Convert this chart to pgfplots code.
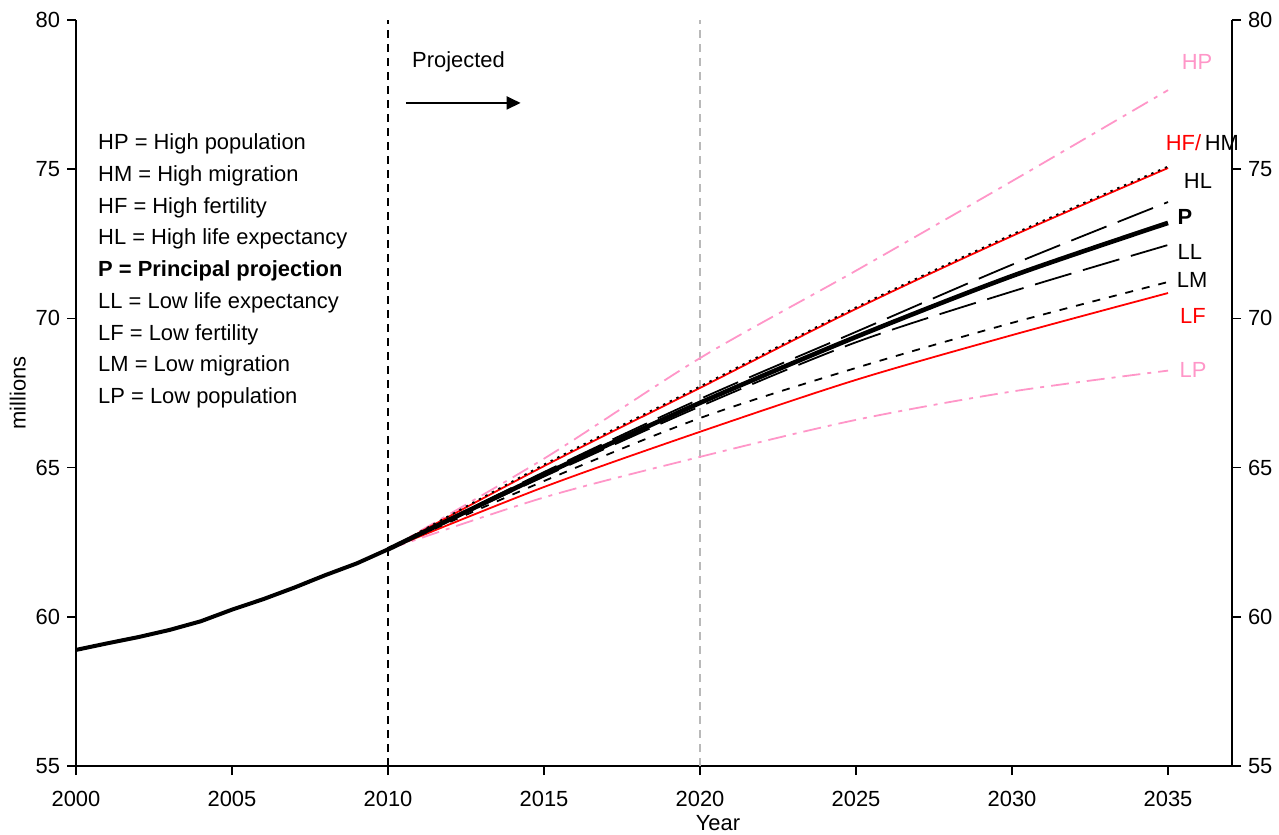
\documentclass[border=0pt]{standalone}
\usepackage{fontspec}
\setmainfont{Liberation Sans}
\usepackage{pgfplots}
\pgfplotsset{compat=1.18}
\usetikzlibrary{arrows.meta}
\definecolor{hpink}{RGB}{255,150,200}
\definecolor{hred}{RGB}{255,0,0}
\definecolor{vgray}{RGB}{185,185,185}

\pgfplotstableread{
year val
2000 58.89
2001 59.11
2002 59.32
2003 59.56
2004 59.85
2005 60.24
2006 60.59
2007 60.98
2008 61.40
2009 61.79
2010 62.26
}\hist

\pgfplotstableread{
year HP HM HF HL P LL LM LF LP
2010 62.26 62.26 62.26 62.26 62.26 62.26 62.26 62.26 62.26
2015 65.30 65.10 65.05 64.85 64.77 64.70 64.55 64.35 64.00
2020 68.67 67.72 67.67 67.30 67.17 67.05 66.66 66.20 65.36
2025 71.60 70.37 70.32 69.55 69.38 69.20 68.34 67.94 66.60
2030 74.60 72.81 72.76 71.80 71.42 70.90 69.85 69.44 67.55
2035 77.65 75.09 75.04 73.90 73.20 72.46 71.22 70.85 68.25
}\proj

\begin{document}
\begin{tikzpicture}[font=\fontsize{11}{13}\selectfont]
\useasboundingbox (-38bp,-34.5bp) rectangle (601.5bp,383bp);
\begin{axis}[
  at={(0,0)}, anchor=south west,
  scale only axis, width=578bp, height=373bp,
  xmin=2000, xmax=2037.05, ymin=55, ymax=80,
  axis x line*=bottom, axis y line*=left,
  xtick={2000,2005,...,2035}, ytick={55,60,...,80},
  tick align=outside, major tick length=4.5bp,
  tick style={black, line width=0.8bp},
  axis line style={black, line width=0.8bp},
  xticklabel style={/pgf/number format/1000 sep={}, yshift=-4.5bp},
  /pgf/number format/assume math mode=true,
  xlabel={Year}, ylabel={millions},
  xlabel style={xshift=32bp, yshift=2.5bp},
  ylabel style={yshift=-2bp},
  clip=false,
]
% vertical reference lines
\addplot[black, line width=0.8bp, dash pattern=on 4bp off 3bp] coordinates {(2010,55) (2010,80)};
\addplot[vgray, line width=0.8bp, dash pattern=on 4bp off 3bp] coordinates {(2020,55) (2020,80)};

% pink variants
\addplot[hpink, line width=0.9bp, smooth, dash pattern=on 9bp off 3.5bp on 2bp off 3.5bp] table[x=year,y=HP]{\proj};
\addplot[hpink, line width=0.9bp, smooth, dash pattern=on 9bp off 3.5bp on 2bp off 3.5bp] table[x=year,y=LP]{\proj};
% red variants
\addplot[hred, line width=0.9bp, smooth] table[x=year,y=HF]{\proj};
\addplot[hred, line width=0.9bp, smooth] table[x=year,y=LF]{\proj};
% black dashed variants
\addplot[black, line width=0.9bp, smooth, dash pattern=on 1.2bp off 2.5bp] table[x=year,y=HM]{\proj};
\addplot[black, line width=0.9bp, smooth, dash pattern=on 19bp off 6bp] table[x=year,y=HL]{\proj};
\addplot[black, line width=0.9bp, smooth, dash pattern=on 19bp off 6bp] table[x=year,y=LL]{\proj};
\addplot[black, line width=0.9bp, smooth, dash pattern=on 4bp off 4.5bp] table[x=year,y=LM]{\proj};
% principal and history
\addplot[black, line width=2.3bp, smooth] table[x=year,y=P]{\proj};
\addplot[black, line width=2.0bp] table[x=year,y=val]{\hist};

% projected arrow
\node[anchor=center] at (axis cs:2012.26,78.6) {Projected};
\draw[-{Triangle[length=7bp,width=6.5bp]}, line width=1bp] (axis cs:2010.57,77.22) -- (axis cs:2014.25,77.22);

% key
\begin{scope}[every node/.style={anchor=west, inner sep=0pt}]
\node at (axis cs:2000.7,75.84) {HP = High population};
\node at (axis cs:2000.7,74.78) {HM = High migration};
\node at (axis cs:2000.7,73.71) {HF = High fertility};
\node at (axis cs:2000.7,72.65) {HL = High life expectancy};
\node at (axis cs:2000.7,71.59) {\bfseries P = Principal projection};
\node at (axis cs:2000.7,70.52) {LL = Low life expectancy};
\node at (axis cs:2000.7,69.46) {LF = Low fertility};
\node at (axis cs:2000.7,68.40) {LM = Low migration};
\node at (axis cs:2000.7,67.34) {LP = Low population};
\end{scope}

% end labels
\node[hpink] at (axis cs:2035.93,78.59) {HP};
\node at (axis cs:2036.1,75.88) {\textcolor{hred}{HF/}\,HM};
\node at (axis cs:2035.96,74.60) {HL};
\node at (axis cs:2035.54,73.40) {\bfseries P};
\node at (axis cs:2035.70,72.23) {LL};
\node at (axis cs:2035.77,71.29) {LM};
\node[hred] at (axis cs:2035.80,70.08) {LF};
\node[hpink] at (axis cs:2035.80,68.27) {LP};
\end{axis}
\begin{axis}[
  at={(0,0)}, anchor=south west,
  scale only axis, width=578bp, height=373bp,
  xmin=2000, xmax=2037.05, ymin=55, ymax=80,
  axis x line=none, axis y line*=right,
  ytick={55,60,...,80},
  tick align=outside, major tick length=4.5bp,
  tick style={black, line width=0.8bp},
  axis line style={black, line width=0.8bp},
  /pgf/number format/assume math mode=true,
]
\end{axis}
\end{tikzpicture}
\end{document}
